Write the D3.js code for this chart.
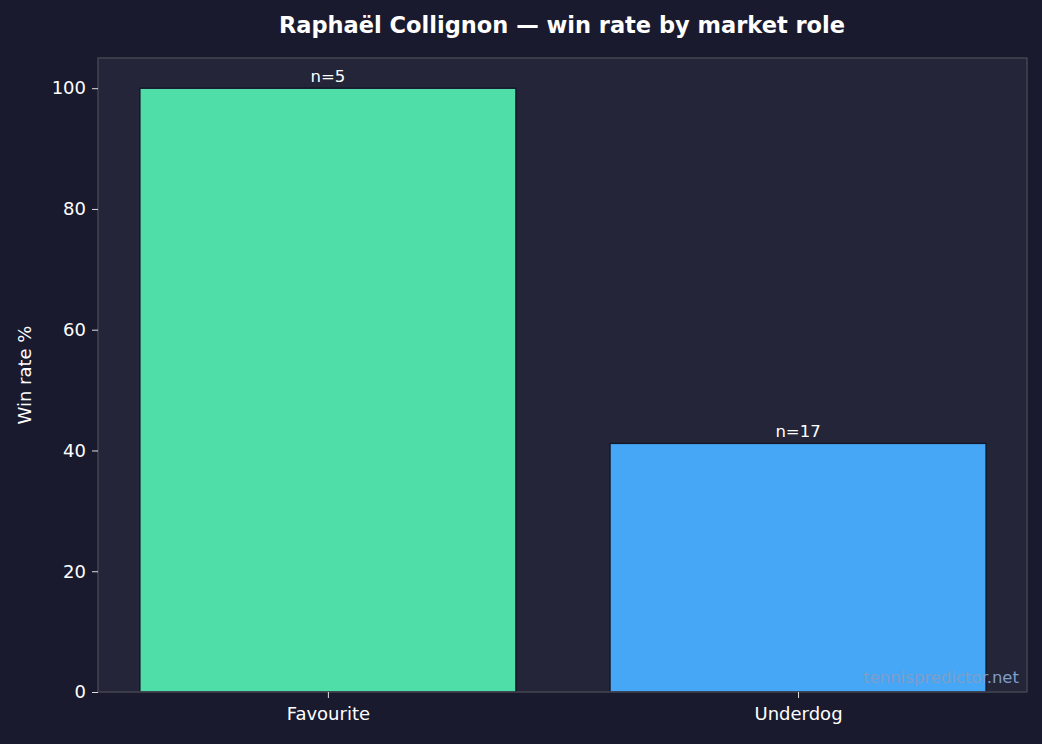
<!DOCTYPE html>
<html><head><meta charset="utf-8">
<script src="https://cdn.jsdelivr.net/npm/d3@7"></script>
<style>body{margin:0;background:#1a1a2e;}svg{display:block;font-family:"DejaVu Sans",sans-serif;}</style>
</head><body>
<svg id="c" width="1042" height="744"></svg>
<script>
const categories = ["Favourite", "Underdog"];
const winRates = [100, 41.18];
const counts = [5, 17];
const colors = ["#4fdea8", "#45a7f5"];
const yTicks = [0, 20, 40, 60, 80, 100];

const svg = d3.select("#c");
svg.append("rect").attr("width",1042).attr("height",744).attr("fill","#1a1a2e");
const L=98,R=1027,T=58,B=692;
const x = d3.scaleLinear().domain([-0.489,1.487]).range([L,R]);
const y = d3.scaleLinear().domain([0,105]).range([B,T]);
svg.append("rect").attr("x",L).attr("y",T).attr("width",R-L).attr("height",B-T).attr("fill","#242538");
const bw = 0.8;
categories.forEach((c,i)=>{
  svg.append("rect").attr("x",x(i-bw/2)).attr("y",y(winRates[i])).attr("width",x(i+bw/2)-x(i-bw/2)).attr("height",y(0)-y(winRates[i]))
    .attr("fill",colors[i]).attr("stroke","#15182a").attr("stroke-width",1.5);
  svg.append("text").attr("x",x(i)).attr("y",y(winRates[i])-6).attr("text-anchor","middle").attr("fill","#fff").attr("font-size",16.5).text("n="+counts[i]);
});
svg.append("rect").attr("x",L).attr("y",T).attr("width",R-L).attr("height",B-T).attr("fill","none").attr("stroke","#4a4a55").attr("stroke-width",1.3);
const ya = svg.append("g").attr("transform",`translate(${L},0)`).call(d3.axisLeft(y).tickValues(yTicks).tickSize(6).tickPadding(6));
const xa = svg.append("g").attr("transform",`translate(0,${B})`).call(d3.axisBottom(x).tickValues([0,1]).tickFormat(i=>categories[i]).tickSize(6).tickPadding(9));
[ya,xa].forEach(a=>{a.select(".domain").remove();a.selectAll("line").attr("stroke","#ddd");a.selectAll("text").attr("fill","#fff").attr("font-size",18).attr("font-family","DejaVu Sans");});
svg.append("text").attr("transform","translate(31,375) rotate(-90)").attr("text-anchor","middle").attr("fill","#fff").attr("font-size",18).text("Win rate %");
svg.append("text").attr("x",562).attr("y",33).attr("text-anchor","middle").attr("fill","#fff").attr("font-size",22.5).attr("font-weight","bold").text("Raphaël Collignon — win rate by market role");
svg.append("text").attr("x",1019).attr("y",683).attr("text-anchor","end").attr("fill","#7f9dc8").attr("font-size",16.5).text("tennispredictor.net");
</script></body></html>
